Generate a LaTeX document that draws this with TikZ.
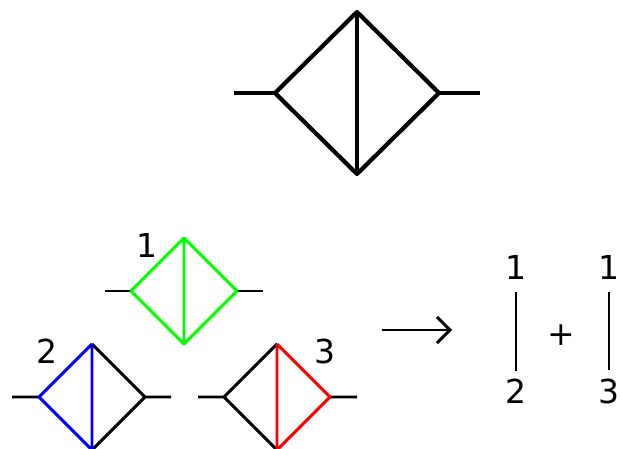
\documentclass[tikz,border=0pt]{standalone}
\usepackage{fontspec}
\setmainfont{DejaVu Sans}
\usetikzlibrary{arrows.meta}
\begin{document}
\begin{tikzpicture}[x=1pt,y=-1pt,line join=round,
  big/.style={line width=4.2pt},
  small/.style={line width=2.9pt},
  lbl/.style={font=\fontsize{33}{40}\selectfont, inner sep=0pt},
  arr/.style={line width=2.9pt,-{Straight Barb[length=13pt,width=26pt,line width=2.9pt]}}]
\useasboundingbox (0,0) rectangle (622,449);
% top diamond
\coordinate (tA) at (234,93);
\coordinate (tL) at (275,93);
\coordinate (tT) at (357,12);
\coordinate (tR) at (439,93);
\coordinate (tB) at (357,174);
\coordinate (tZ) at (480,93);
\draw[big] (tL) -- (tT) -- (tR) -- (tB) -- cycle;
\draw[big] (tT) -- (tB);
\draw[big] (tA) -- (tL) (tR) -- (tZ);
% green diamond
\coordinate (gA) at (105,291);
\coordinate (gL) at (131,291);
\coordinate (gT) at (184,238);
\coordinate (gR) at (237,291);
\coordinate (gB) at (184,344);
\coordinate (gZ) at (263,291);
\draw[small] (gA) -- (gL) (gR) -- (gZ);
\draw[small,green] (gL) -- (gT) -- (gR) -- (gB) -- cycle (gT) -- (gB);
\node[lbl] (n1) at (147,245) {1};
% blue diamond
\coordinate (bA) at (12,397);
\coordinate (bL) at (39,397);
\coordinate (bT) at (92,344);
\coordinate (bR) at (145,397);
\coordinate (bB) at (92,450);
\coordinate (bZ) at (171,397);
\draw[small] (bA) -- (bL) (bT) -- (bR) -- (bB) (bR) -- (bZ);
\draw[small,blue] (bT) -- (bL) -- (bB) (bT) -- (bB);
\node[lbl] (n2) at (47,351) {2};
% red diamond
\coordinate (rA) at (198,397);
\coordinate (rL) at (224,397);
\coordinate (rT) at (277,344);
\coordinate (rR) at (330,397);
\coordinate (rB) at (277,450);
\coordinate (rZ) at (357,397);
\draw[small] (rA) -- (rL) (rT) -- (rL) -- (rB) (rR) -- (rZ);
\draw[small,red] (rT) -- (rR) -- (rB) (rT) -- (rB);
\node[lbl] (n3) at (325,351) {3};
% arrow
\coordinate (aS) at (382,330);
\coordinate (aE) at (452,330);
\draw[arr] (aS) -- (aE);
% result
\node[lbl] (p1) at (516,267) {1};
\node[lbl] (p2) at (516,391) {2};
\node[lbl] (q1) at (609,267) {1};
\node[lbl] (q3) at (609,391) {3};
\node[lbl] (plus) at (561,335) {+};
\draw[small,shorten <=13pt,shorten >=8pt] (p1.south) -- (p2.north);
\draw[small,shorten <=13pt,shorten >=8pt] (q1.south) -- (q3.north);
\end{tikzpicture}
\end{document}
